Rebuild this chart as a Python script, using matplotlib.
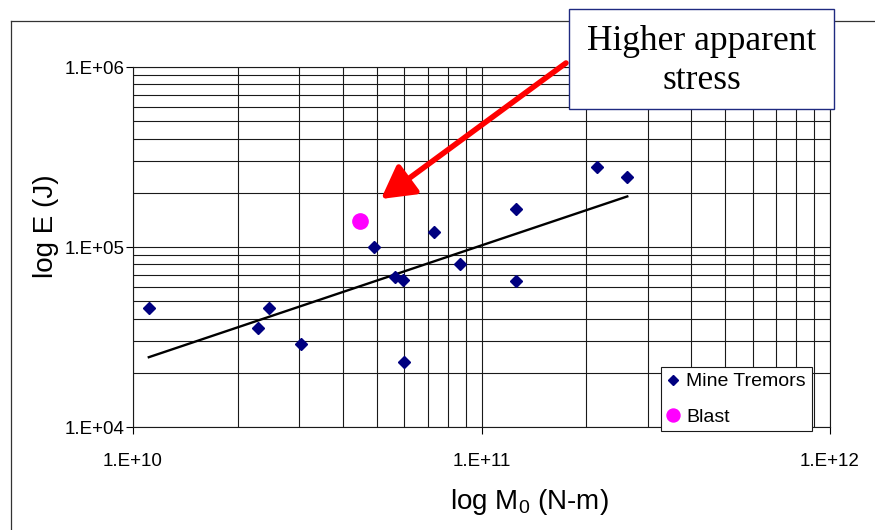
import numpy as np
import matplotlib
matplotlib.use("Agg")
import matplotlib.pyplot as plt
from matplotlib.ticker import LogLocator, FuncFormatter, NullFormatter
from matplotlib.lines import Line2D

plt.rcParams['font.family'] = ['Liberation Sans', 'DejaVu Sans']
plt.rcParams['mathtext.fontset'] = 'custom'
plt.rcParams['mathtext.rm'] = 'Liberation Sans'

# data
tremor_m0 = [1.11e10, 2.28e10, 2.46e10, 3.03e10, 5.65e10, 5.96e10, 6.0e10,
             4.9e10, 7.31e10, 8.65e10, 1.256e11, 1.256e11, 2.15e11, 2.62e11]
tremor_e = [4.56e4, 3.57e4, 4.56e4, 2.89e4, 6.79e4, 6.56e4, 2.31e4,
            9.96e4, 1.21e5, 8.07e4, 1.63e5, 6.44e4, 2.79e5, 2.44e5]
blast_m0 = [4.48e10]
blast_e = [1.40e5]

W, H = 875, 530
fig = plt.figure(figsize=(W / 100, H / 100), dpi=100)
ax = fig.add_axes([133 / W, 1 - 427 / H, (830 - 133) / W, (427 - 67) / H])

ax.set_xscale('log')
ax.set_yscale('log')
ax.set_xlim(1e10, 1e12)
ax.set_ylim(1e4, 1e6)

# grid, major and minor
ax.xaxis.set_minor_locator(LogLocator(base=10, subs=np.arange(2, 10)))
ax.yaxis.set_minor_locator(LogLocator(base=10, subs=np.arange(2, 10)))
ax.xaxis.set_minor_formatter(NullFormatter())
ax.yaxis.set_minor_formatter(NullFormatter())
ax.grid(True, which='both', color='#1a1a1a', linewidth=0.8)
ax.set_axisbelow(True)
ax.tick_params(which='minor', length=0)
ax.tick_params(which='major', direction='out', length=5, width=0.8, color='black')
ax.tick_params(axis='x', pad=14, labelsize=13.5)
ax.tick_params(axis='y', pad=1, labelsize=13.5)
for s in ax.spines.values():
    s.set_color('#1a1a1a')
    s.set_linewidth(0.8)

fmt = FuncFormatter(lambda v, p: "1.E+%02d" % int(round(np.log10(v))))
ax.xaxis.set_major_formatter(fmt)
ax.yaxis.set_major_formatter(fmt)

# power-law trend line fitted to the tremors
lx = np.log10(tremor_m0)
ly = np.log10(tremor_e)
b, a = np.polyfit(lx, ly, 1)
tx = np.linspace(lx.min(), lx.max(), 50)
ax.plot(10 ** tx, 10 ** (a + b * tx), color='black', linewidth=1.7, zorder=3)

ax.plot(tremor_m0, tremor_e, linestyle='none', marker='D', markersize=6,
        color='#000080', label='Mine Tremors', zorder=4)
ax.plot(blast_m0, blast_e, linestyle='none', marker='o', markersize=11,
        color='#ff00ff', label='Blast', zorder=4)

ax.set_xlabel('log M$_0$ (N-m)', fontsize=20)
ax.xaxis.set_label_coords((529 - 133) / 697, (427 - 487) / 360)
ax.set_ylabel('log E (J)', fontsize=20)
ax.yaxis.set_label_coords((46 - 133) / 697, (427 - 226) / 360)
ax.yaxis.label.set_va('center')

leg = ax.legend(loc='upper left', bbox_to_anchor=(661 / W, 1 - 367 / H),
                bbox_transform=fig.transFigure, borderaxespad=0,
                fancybox=False, framealpha=1, edgecolor='#1a1a1a',
                fontsize=14, handlelength=0.6, handletextpad=0.4,
                labelspacing=0.9, borderpad=0.3, markerscale=0.85)
leg.get_frame().set_linewidth(0.8)
leg.set_zorder(6)

# outer chart border
fig.add_artist(Line2D([11 / W, 11 / W], [0, 1 - 21 / H], color='#333333', linewidth=0.9))
fig.add_artist(Line2D([11 / W, 1], [1 - 21 / H, 1 - 21 / H], color='#333333', linewidth=0.9))

# callout
fig.patches.append(plt.Rectangle((569 / W, 1 - 109 / H), (834 - 569) / W, 100 / H,
                                 transform=fig.transFigure, facecolor='white',
                                 edgecolor='#1f2a80', linewidth=1.0, zorder=9))
fig.text(701.5 / W, 1 - 61 / H, 'Higher apparent\nstress', family='Liberation Serif',
         fontsize=25.5, ha='center', va='center', linespacing=1.22, zorder=10)
ax.annotate('', xy=(381 / W, 1 - 199 / H), xytext=(566 / W, 1 - 63 / H),
            xycoords='figure fraction', textcoords='figure fraction',
            arrowprops=dict(arrowstyle='-|>,head_length=0.9,head_width=0.5',
                            color='#ff0000', linewidth=4, mutation_scale=22,
                            shrinkA=0, shrinkB=0), zorder=8)

fig.savefig('out.png', dpi=100)
